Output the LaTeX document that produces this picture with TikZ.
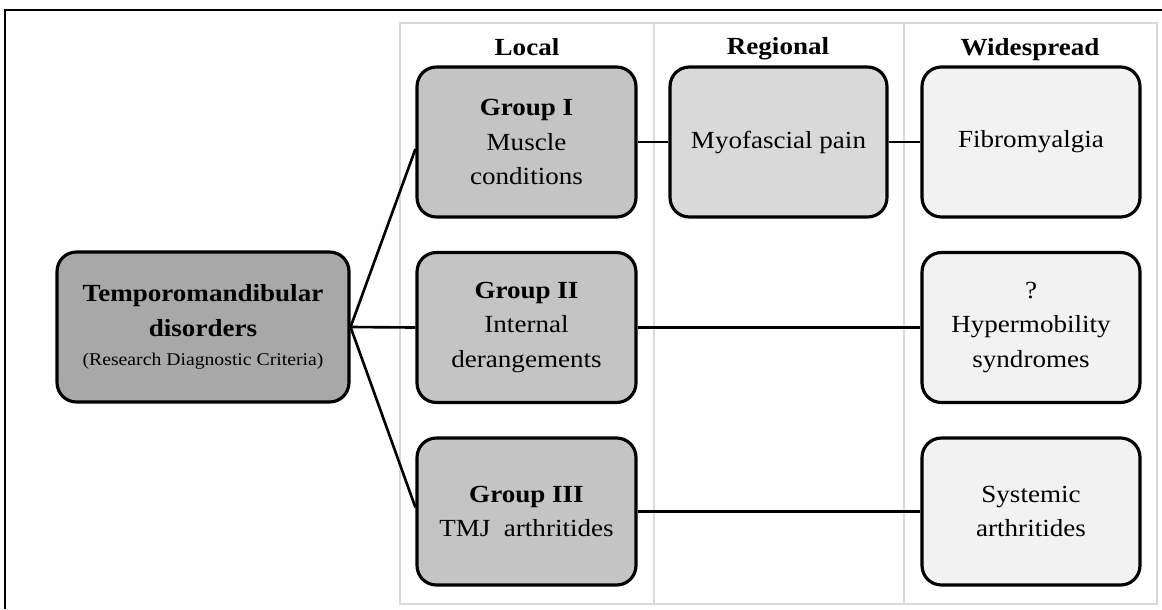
\documentclass[tikz,border=0pt]{standalone}
\usepackage{fontspec}
\setmainfont{Liberation Serif}[FakeStretch=1.1]
\usetikzlibrary{positioning}

\begin{document}
\begin{tikzpicture}[
    x=0.02cm, y=-0.02cm,
    root/.style={draw=black, rounded corners=11pt, fill=black!34,
                 inner sep=4pt, minimum width=5.84cm, minimum height=3cm,
                 align=center, font=\fontsize{14}{19.5}\selectfont, line width=1.8pt},
    group/.style={draw=black, rounded corners=11pt, fill=black!23,
                  inner sep=4pt, minimum width=4.38cm, minimum height=3cm,
                  align=center, font=\fontsize{14}{19.8}\selectfont, line width=1.8pt},
    regional/.style={draw=black, rounded corners=11pt, fill=black!15,
                     inner sep=4pt, minimum width=4.34cm, minimum height=3cm,
                     align=center, font=\fontsize{14}{19.8}\selectfont, line width=1.8pt},
    spread/.style={draw=black, rounded corners=11pt, fill=black!5,
                   inner sep=4pt, minimum width=4.36cm, minimum height=3cm,
                   align=center, font=\fontsize{14}{19.8}\selectfont, line width=1.8pt},
    header/.style={font=\fontsize{14}{16}\selectfont\bfseries},
    link/.style={line width=1.5pt, black}
]
\useasboundingbox (0,0) rectangle (1162,609);

% Frame and column panel
\draw[line width=1.4pt] (5,609) -- (5,10) -- (1162,10);
\draw[black!15, line width=0.6pt] (400,23) rectangle (1157,604);
\draw[black!15, line width=0.6pt] (654,23) -- (654,604);
\draw[black!15, line width=0.6pt] (904,23) -- (904,604);

% Column headers
\node[header] (localhead) at (527,47) {Local};
\node[header] (regionhead) at (778,49) {Regional};
\node[header] (widehead) at (1030,50) {Widespread};

% Root
\node[root] (tmd) at (203,327) {\textbf{Temporomandibular}\\\textbf{disorders}\\[-3pt]{\fontsize{10.2}{12}\selectfont(Research Diagnostic Criteria)}};

% Local groups
\node[group] (g1) at (526.5,142) {\textbf{Group I}\\Muscle\\conditions};
\node[group] (g2) at (526.5,327.5) {\textbf{Group II}\\Internal\\derangements};
\node[group, minimum height=2.94cm] (g3) at (526.5,511.5) {\textbf{Group III}\\TMJ\ \ arthritides};

% Regional and widespread
\node[regional] (myo) at (778.5,142) {Myofascial pain};
\node[spread] (fib) at (1031,142) {Fibromyalgia};
\node[spread] (hyp) at (1031,327.5) {?\\Hypermobility\\syndromes};
\node[spread, minimum height=2.94cm] (sys) at (1031,511.5) {Systemic\\arthritides};

% Links
\draw[link] (tmd.east) -- ([yshift=-0.14cm]g1.west);
\draw[link] (tmd.east) -- (g2.west);
\draw[link] (tmd.east) -- ([yshift=0.08cm]g3.west);
\draw[link] (g1) -- (myo);
\draw[link] (myo) -- (fib);
\draw[link] (g2) -- (hyp);
\draw[link] (g3) -- (sys);

\end{tikzpicture}
\end{document}
